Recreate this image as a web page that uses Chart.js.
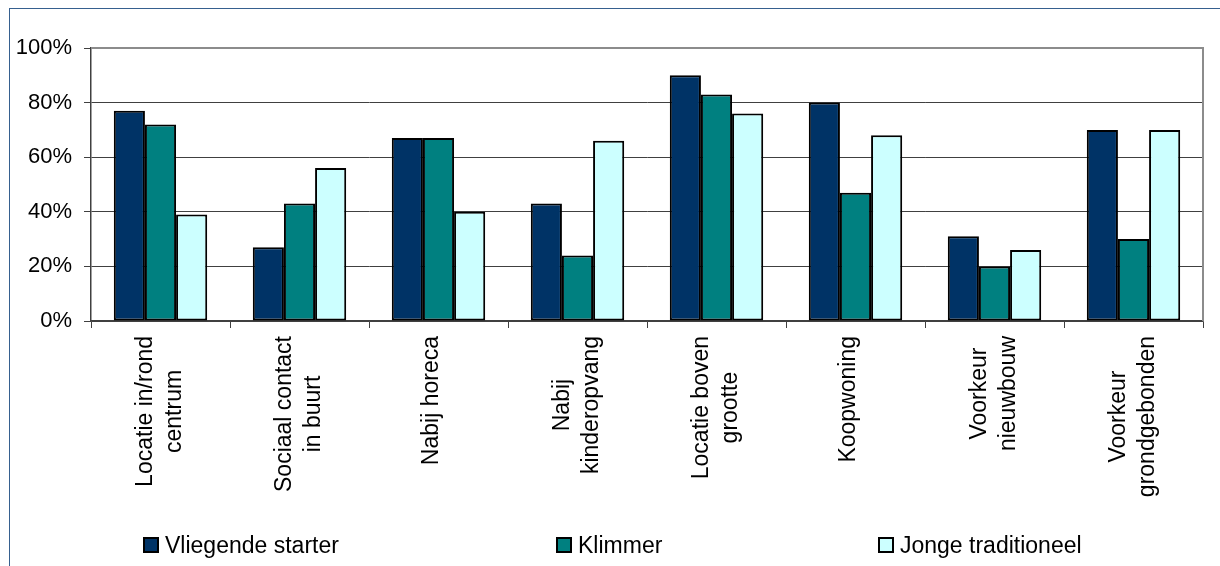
<!DOCTYPE html>
<html>
<head>
<meta charset="utf-8">
<script src="https://cdn.jsdelivr.net/npm/chart.js@4"></script>
<style>
html,body{margin:0;padding:0;background:#fff;}
#wrap{position:relative;width:1220px;height:566px;overflow:hidden;font-family:"Liberation Sans",Arial,sans-serif;}
#frame{position:absolute;left:9px;top:8px;width:1300px;height:700px;border-top:1px solid #36608f;border-left:1px solid #36608f;box-sizing:border-box;}
#c{position:absolute;left:0;top:0;}
.leg{position:absolute;top:532px;font-size:23px;line-height:26px;color:#000;display:flex;align-items:center;white-space:nowrap;}
.leg i{display:inline-block;width:12px;height:12px;border:2px solid #000;margin-right:6px;}
</style>
</head>
<body>
<div id="wrap">
  <div id="frame"></div>
  <canvas id="c" width="1220" height="566"></canvas>
  <div id="legend"></div>
</div>
<script>
// ---- data ----
const categories = [
  ["Locatie in/rond", "centrum"],
  ["Sociaal contact", "in buurt"],
  ["Nabij horeca"],
  ["Nabij", "kinderopvang"],
  ["Locatie boven", "grootte"],
  ["Koopwoning"],
  ["Voorkeur", "nieuwbouw"],
  ["Voorkeur", "grondgebonden"]
];
const seriesNames = ["Vliegende starter", "Klimmer", "Jonge traditioneel"];
const vliegendeStarter = [77, 27, 67, 43, 90, 80, 31, 70];
const klimmer = [72, 43, 67, 24, 83, 47, 20, 30];
const jongeTraditioneel = [39, 56, 40, 66, 76, 68, 26, 70];
const yTicks = [0, 20, 40, 60, 80, 100];

// ---- styles ----
const FONT = '"Liberation Sans", Arial, sans-serif';
const colors = ["#003366", "#008080", "#CCFFFF"];
const legendLeft = [143, 556, 878];
const AXIS = '#404040';

const xLabelsPlugin = {
  id: 'xLabels',
  afterDraw(chart) {
    const ctx = chart.ctx;
    const xs = chart.scales.x;
    const top = chart.chartArea.bottom + 15;
    const LH = 28.75;
    ctx.save();
    ctx.font = '23px ' + FONT;
    ctx.fillStyle = '#000';
    ctx.textAlign = 'center';
    ctx.textBaseline = 'middle';
    categories.forEach((lines, i) => {
      const x = xs.getPixelForTick(i) + (lines.length === 1 ? -7 : 0);
      const W = Math.max(...lines.map(l => ctx.measureText(l).width));
      const n = lines.length;
      lines.forEach((l, j) => {
        ctx.save();
        ctx.translate(x + (j - (n - 1) / 2) * LH, top + W / 2);
        ctx.rotate(-Math.PI / 2);
        ctx.fillText(l, 0, 0);
        ctx.restore();
      });
    });
    ctx.restore();
  }
};

const plotBorderPlugin = {
  id: 'plotBorder',
  afterDraw(chart) {
    const {ctx, chartArea: a} = chart;
    ctx.save();
    ctx.strokeStyle = '#8c8c8c';
    ctx.lineWidth = 2;
    ctx.beginPath();
    ctx.moveTo(a.left, a.top);
    ctx.lineTo(a.right, a.top);
    ctx.lineTo(a.right, a.bottom);
    ctx.stroke();
    ctx.restore();
  }
};

new Chart(document.getElementById('c'), {
  type: 'bar',
  data: {
    labels: categories,
    datasets: [vliegendeStarter, klimmer, jongeTraditioneel].map((d, i) => ({
      label: seriesNames[i],
      data: d,
      backgroundColor: colors[i],
      borderColor: '#000',
      borderWidth: 2,
      borderSkipped: false,
      inflateAmount: 0,
      categoryPercentage: 0.672,
      barPercentage: 1
    }))
  },
  options: {
    responsive: false,
    animation: false,
    devicePixelRatio: 1,
    layout: { padding: { left: 0, top: 48, right: 17, bottom: 0 } },
    plugins: { legend: { display: false }, tooltip: { enabled: false } },
    scales: {
      x: {
        ticks: { display: false },
        grid: { drawOnChartArea: false, drawTicks: true, tickLength: 7, tickColor: AXIS, offset: true },
        border: { color: AXIS, width: 1.5 },
        afterFit: s => { s.height = 566 - 321; }
      },
      y: {
        min: 0, max: 100,
        afterBuildTicks: s => { s.ticks = yTicks.map(v => ({ value: v })); },
        ticks: { callback: v => v + '%', font: { size: 22, family: FONT }, color: '#000', padding: 12 },
        grid: {
          color: c => (c.tick && c.tick.value === 100) ? 'rgba(0,0,0,0)' : AXIS,
          tickColor: AXIS, tickLength: 7, lineWidth: 1
        },
        border: { color: AXIS, width: 1.5 },
        afterFit: s => { s.width = 91; }
      }
    }
  },
  plugins: [xLabelsPlugin, plotBorderPlugin]
});

// ---- legend (HTML) ----
const leg = document.getElementById('legend');
seriesNames.forEach((name, i) => {
  const d = document.createElement('div');
  d.className = 'leg';
  d.style.left = legendLeft[i] + 'px';
  const b = document.createElement('i');
  b.style.background = colors[i];
  d.appendChild(b);
  d.appendChild(document.createTextNode(name));
  leg.appendChild(d);
});
</script>
</body>
</html>
